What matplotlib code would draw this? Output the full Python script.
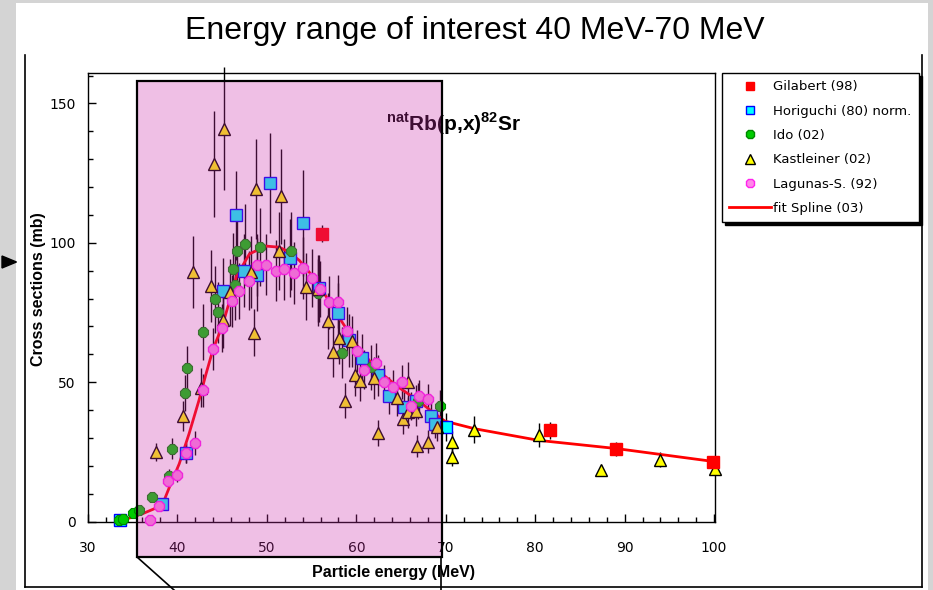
import matplotlib
matplotlib.use("Agg")
import matplotlib.pyplot as plt
from matplotlib.patches import Rectangle, Polygon
from matplotlib.lines import Line2D
from matplotlib.ticker import MultipleLocator

plt.rcParams["mathtext.fontset"] = "custom"
plt.rcParams["mathtext.bf"] = "Liberation Sans:bold"
plt.rcParams["mathtext.rm"] = "Liberation Sans"

# ---------------- data: natRb(p,x)82Sr cross sections ----------------
gil_E = [56.2, 81.7, 89.0, 99.9]
gil_s = [103.2, 32.7, 26.1, 21.3]
gil_e = [3.0, 3.0, 2.5, 2.0]

hor_E = [33.55, 38.25, 40.95, 45.05, 46.5, 47.45, 48.9, 50.3, 52.6, 54.0, 55.8,
         57.9, 59.2, 60.6, 62.4, 63.7, 65.3, 66.7, 68.3, 68.8, 70.0]
hor_s = [0.4, 6.3, 24.6, 82.6, 109.8, 90.0, 88.6, 121.4, 94.5, 107.0, 83.7,
         74.7, 65.1, 58.7, 52.4, 45.2, 41.0, 43.1, 37.8, 34.8, 33.8]
hor_e = [0.1, 1.0, 3.5, 12.0, 16.0, 13.0, 13.0, 18.0, 14.0, 19.0, 12.0,
         11.0, 9.5, 8.5, 7.5, 6.5, 6.0, 6.0, 5.5, 5.0, 5.0]

ido_E = [33.5, 33.9, 35.0, 35.7, 37.1, 39.1, 39.4, 40.8, 41.1, 42.9, 44.2, 44.5,
         46.2, 46.4, 46.7, 47.5, 49.2, 52.7, 55.7, 58.4, 61.6, 66.9, 69.35]
ido_s = [0.4, 0.8, 3.2, 4.1, 8.7, 16.5, 26.1, 46.2, 55.0, 68.0, 79.8, 75.1,
         90.5, 84.7, 97.0, 99.5, 98.5, 97.0, 82.0, 60.6, 55.3, 43.3, 41.3]
ido_e = [0.1, 0.1, 0.5, 0.6, 1.3, 2.5, 3.8, 6.5, 8.0, 10.0, 12.0, 11.0,
         13.0, 12.5, 14.0, 14.5, 14.0, 14.0, 12.0, 9.0, 8.0, 6.5, 6.0]

kas_E = [37.6, 40.65, 41.7, 42.6, 43.7, 44.1, 45.1, 45.25, 45.85, 48.2, 48.6, 48.8,
         51.3, 51.6, 54.4, 55.7, 56.8, 57.4, 58.1, 58.7, 59.5, 59.9, 60.4, 61.95,
         62.4, 64.5, 65.2, 65.8, 65.8, 66.7, 66.8, 68.0, 69.0, 70.66, 70.66, 73.2,
         80.4, 87.4, 93.9, 100.1]
kas_s = [24.9, 38.0, 89.5, 48.0, 84.4, 128.3, 72.4, 140.9, 82.3, 89.5, 67.7, 119.4,
         97.2, 116.6, 84.3, 83.5, 71.8, 60.7, 65.9, 43.4, 64.6, 52.7, 50.3, 51.6,
         31.7, 44.4, 36.8, 50.2, 39.2, 39.8, 27.0, 28.7, 33.8, 28.5, 23.3, 33.0,
         30.9, 18.3, 22.2, 18.7]
kas_e = [3.3, 5.4, 13.0, 7.0, 13.0, 19.0, 10.0, 22.0, 12.0, 13.0, 8.4, 18.0,
         14.0, 17.0, 12.0, 12.0, 10.0, 9.0, 9.5, 6.3, 9.0, 7.5, 7.0, 7.5,
         4.6, 6.5, 5.5, 7.0, 5.5, 5.5, 4.0, 4.0, 5.0, 4.0, 3.5, 4.8,
         4.3, 1.8, 2.8, 2.0]

lag_E = [36.95, 37.96, 38.97, 39.9, 40.95, 41.95, 42.9, 44.0, 44.95, 46.1, 46.9,
         47.95, 48.85, 49.85, 51.0, 51.9, 53.0, 54.0, 55.0, 55.97, 56.9, 57.95,
         58.96, 60.1, 60.9, 62.25, 63.1, 64.05, 65.05, 66.06, 67.0, 68.0]
lag_s = [0.7, 5.7, 14.7, 16.7, 24.6, 28.2, 47.0, 62.0, 69.4, 79.1, 82.7,
         86.4, 92.0, 92.1, 90.0, 90.5, 89.2, 91.0, 87.3, 83.5, 78.7, 78.9,
         68.5, 61.1, 54.5, 56.9, 50.0, 48.4, 50.0, 41.3, 45.2, 43.8]
lag_e = [0.2, 0.9, 2.2, 2.5, 3.7, 4.2, 6.0, 7.5, 8.5, 9.5, 10.0,
         10.5, 11.0, 11.0, 11.0, 11.0, 11.0, 11.0, 10.5, 10.0, 9.5, 9.5,
         8.5, 7.5, 7.0, 7.0, 6.0, 6.0, 6.0, 5.0, 5.5, 5.5]

fit_E = [33.5, 34.4, 36.1, 37.8, 38.5, 39.1, 40.2, 41.3, 42.4, 43.2, 44.0, 45.0,
         46.0, 46.6, 48.05, 49.9, 51.4, 52.5, 53.65, 55.5, 58.3, 60.2, 62.4, 64.7,
         66.9, 68.8, 69.9, 73.2, 80.4, 89.0, 100.0]
fit_s = [0.3, 1.0, 2.8, 5.1, 7.5, 12.3, 20.7, 31.5, 43.4, 53.0, 62.0, 70.0,
         81.0, 88.0, 96.0, 98.8, 98.4, 96.6, 93.6, 86.5, 72.1, 62.5, 54.2, 48.2,
         43.4, 38.6, 36.0, 33.3, 29.1, 26.2, 21.5]

x_ticks = [30, 40, 50, 60, 70, 80, 90, 100]
y_ticks = [0, 50, 100, 150]

# ---------------- figure / slide frame ----------------
W, H = 933, 590
fig = plt.figure(figsize=(W / 100, H / 100), dpi=100)
fig.patch.set_facecolor("#d4d4d4")


def fx(px):
    return px / W


def fy(py):
    return 1 - py / H


fig.add_artist(Rectangle((fx(16), fy(590)), fx(928) - fx(16), fy(3) - fy(590),
                         transform=fig.transFigure, facecolor="white",
                         edgecolor="none", zorder=0))
for (x0, y0), (x1, y1) in [((25, 55), (25, 587)), ((25, 587), (922, 587)),
                           ((922, 55), (922, 587))]:
    fig.add_artist(Line2D([fx(x0), fx(x1)], [fy(y0), fy(y1)],
                          transform=fig.transFigure, color="black", lw=1.2))

fig.text(fx(475), fy(31), "Energy range of interest 40 MeV-70 MeV",
         ha="center", va="center", fontsize=23, family="Liberation Sans")

# ---------------- axes ----------------
ax = fig.add_axes([fx(88), fy(521.5), fx(715) - fx(88), fy(73) - fy(521.5)])
ax.set_facecolor("white")
ax.set_xlim(30, 100.1)
ax.set_ylim(0, 160.9)
ax.set_xticks(x_ticks)
ax.set_yticks(y_ticks)
ax.xaxis.set_minor_locator(MultipleLocator(2))
ax.yaxis.set_minor_locator(MultipleLocator(10))
ax.tick_params(which="both", direction="in", top=False, right=False,
               labelsize=10, width=1)
ax.tick_params(axis="x", which="major", length=6, pad=14)
ax.tick_params(axis="y", which="major", length=6, pad=9)
ax.tick_params(which="minor", length=3.5)
for lab in ax.get_xticklabels() + ax.get_yticklabels():
    lab.set_family("DejaVu Sans")
for sp in ax.spines.values():
    sp.set_linewidth(1)

fig.text(fx(393), fy(572), "Particle energy (MeV)", ha="center", va="center",
         fontsize=11.5, fontweight="bold", family="Liberation Sans")
fig.text(fx(39), fy(289), "Cross sections (mb)", ha="center", va="center",
         rotation=90, fontsize=11.5, fontweight="bold", family="Liberation Sans")


def bars(E, s, e):
    cont = ax.errorbar(E, s, yerr=e, fmt="none", ecolor="black", elinewidth=1,
                       capsize=0, zorder=2)
    for col in cont.lines[2]:
        col.set_clip_on(False)


bars(kas_E, kas_s, kas_e)
bars(ido_E, ido_s, ido_e)
bars(lag_E, lag_s, lag_e)
bars(hor_E, hor_s, hor_e)
bars(gil_E, gil_s, gil_e)

ax.plot(fit_E, fit_s, color="#ff0000", lw=2, zorder=3)
ax.plot(hor_E, hor_s, ls="none", marker="s", ms=8, mfc="#00ffff",
        mec="#0000ff", mew=1, zorder=4, clip_on=False)
ax.plot(ido_E, ido_s, ls="none", marker="8", ms=7.5, mfc="#00cc00",
        mec="#008800", mew=0.8, zorder=4, clip_on=False)
ax.plot(kas_E, kas_s, ls="none", marker="^", ms=8, mfc="#ffff00",
        mec="black", mew=1, zorder=4, clip_on=False)
ax.plot(lag_E, lag_s, ls="none", marker="8", ms=7.5, mfc="#ff88e8",
        mec="#ff22ee", mew=1, zorder=4, clip_on=False)
ax.plot(gil_E, gil_s, ls="none", marker="s", ms=8, mfc="#ff0000",
        mec="#ff0000", mew=1, zorder=4, clip_on=False)

ax.text(63.3, 140, r"$^{\mathbf{nat}}\mathbf{Rb(p{,}x)}^{\mathbf{82}}\mathbf{Sr}$",
        fontsize=15, ha="left", va="baseline", zorder=5)

# ---------------- legend ----------------
handles = [
    Line2D([], [], ls="none", marker="s", ms=6, mfc="#ff0000", mec="#ff0000"),
    Line2D([], [], ls="none", marker="s", ms=6, mfc="#00ffff", mec="#0000ff"),
    Line2D([], [], ls="none", marker="8", ms=6, mfc="#00cc00", mec="#008800"),
    Line2D([], [], ls="none", marker="^", ms=6.5, mfc="#ffff00", mec="black"),
    Line2D([], [], ls="none", marker="8", ms=6, mfc="#ff88e8", mec="#ff22ee"),
    Line2D([], [], color="#ff0000", lw=2),
]
labels = ["Gilabert (98)", "Horiguchi (80) norm.", "Ido (02)", "Kastleiner (02)",
          "Lagunas-S. (92)", "fit Spline (03)"]
leg = fig.legend(handles, labels, loc="upper left",
                 bbox_to_anchor=(fx(722), fy(73)), frameon=True, fancybox=False,
                 edgecolor="black", framealpha=1, borderaxespad=0,
                 borderpad=0.55, handlelength=3.2, handletextpad=0.15,
                 labelspacing=0.86, prop={"family": "DejaVu Sans", "size": 9.5},
                 shadow={"color": "black", "alpha": 1})
leg.get_frame().set_linewidth(1)

# ---------------- highlighted energy window ----------------
fig.add_artist(Rectangle((fx(137), fy(557)), fx(442) - fx(137), fy(81) - fy(557),
                         transform=fig.transFigure,
                         facecolor=(205 / 255, 45 / 255, 172 / 255), alpha=0.3,
                         edgecolor="none", zorder=10))
fig.add_artist(Rectangle((fx(137), fy(557)), fx(442) - fx(137), fy(81) - fy(557),
                         transform=fig.transFigure, fill=False,
                         edgecolor="black", lw=1.6, zorder=11))
for (x0, y0), (x1, y1) in [((137, 557), (174, 590)), ((441, 557), (441, 590))]:
    fig.add_artist(Line2D([fx(x0), fx(x1)], [fy(y0), fy(y1)],
                          transform=fig.transFigure, color="black", lw=1.2,
                          zorder=11))

# pointer arrow at the left edge
fig.add_artist(Polygon([(fx(2), fy(256)), (fx(16.5), fy(262)), (fx(2), fy(268))],
                       closed=True, transform=fig.transFigure,
                       facecolor="black", edgecolor="black", zorder=11))

fig.savefig("out.png", dpi=100, facecolor=fig.get_facecolor())
